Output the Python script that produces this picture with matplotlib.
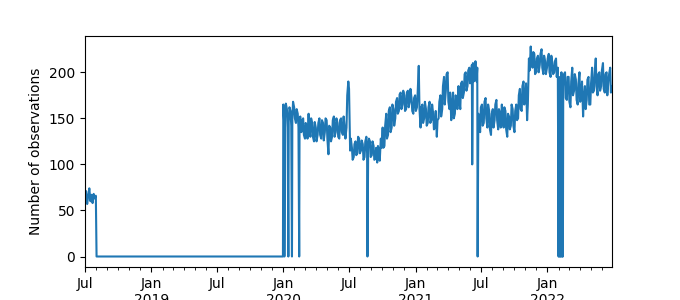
import pandas as pd
import matplotlib.pyplot as plt
import matplotlib.dates as mdates
import matplotlib.ticker as mticker

#early observations, every 3 days
early_start = "2018-07-01"
early_values = [62, 71, 57, 66, 74, 60, 67, 58, 68, 63, 66]

#no observations in between
gap_dates = ["2018-08-02", "2019-12-31"]
gap_values = [0, 0]

#main observations, every 5 days
main_start = "2020-01-01"
main_values = [
    165, 152, 160, 146, 158, 150, 162, 145, 155, 148,
    135, 150, 128, 142, 155, 130, 145, 125, 140, 132,
    150, 128, 145, 135, 148, 111, 140, 130, 152, 135,
    145, 128, 150, 132, 140, 140,
    190, 115,
    118, 108, 125, 112, 128, 115, 122, 108, 130, 118,
    125, 110, 120, 106, 102, 115, 128,
    140, 120, 155, 132, 162, 140, 160, 150,
    172, 158, 178, 165, 175, 160, 180, 168, 172, 155, 175, 162,
    207,
    140, 165, 150, 160, 145, 168, 148, 155, 140, 130,
    150, 175, 160, 195, 180, 200,
    160, 148, 178, 155, 172, 185, 160,
    190, 178, 200, 185, 205, 195, 210, 200, 190,
    155, 135, 165, 145, 172, 140, 158, 132, 160, 148,
    170, 138, 155, 165, 140, 158, 130, 152, 142, 160, 135,
    165, 150, 182, 158, 190, 170, 148,
    215, 228, 205, 220, 200, 218, 208, 225, 198, 212, 205, 220, 195, 210, 200, 215,
    205, 190, 200,
    185, 200, 170, 195, 162, 205, 180, 192, 165, 200,
    175, 152, 185, 170, 195, 165, 205, 180, 215, 175,
    200, 185, 210, 178, 200, 190, 205, 185,
]

#in-between readings, 2 days after each main one
mid_start = "2020-01-03"
mid_values = [
    148, 166, 140, 162, 142, 168, 150, 160, 140, 152,
    148, 132, 145, 128, 138, 150, 130, 146, 125, 145,
    132, 148, 126, 150, 128, 142, 125, 148, 130, 150,
    130, 148, 135, 152, 128, 175,
    182, 128,
    105, 122, 110, 130, 112, 126, 105, 125, 112, 128,
    108, 125, 105, 118, 120, 104, 118,
    118, 142, 128, 158, 135, 165, 142, 168,
    155, 176, 160, 180, 158, 178, 162, 182, 158, 172, 158, 178,
    160,
    162, 145, 168, 142, 162, 145, 165, 138, 158, 148,
    168, 152, 185, 165, 198, 168,
    178, 165, 150, 175, 160, 170, 188,
    172, 198, 180, 202, 188, 208, 190, 212, 205,
    140, 162, 142, 168, 150, 165, 138, 155, 140, 165,
    148, 160, 140, 150, 162, 138, 155, 138, 165, 142, 158,
    148, 175, 160, 185, 165, 188, 165,
    202, 212, 222, 198, 215, 200, 220, 205, 218, 198, 215, 200, 218, 198, 212, 195,
    188, 205, 182,
    198, 172, 195, 168, 190, 175, 198, 170, 188, 168,
    190, 172, 160, 192, 165, 188, 178, 198, 185, 198,
    180, 202, 182, 198, 175, 198, 178,
]

#single day outliers / outages
spike_dates = ["2020-01-04", "2020-01-15", "2020-01-25", "2020-02-14",
               "2020-08-21", "2021-06-07", "2021-06-22",
               "2022-02-01", "2022-02-02", "2022-02-03", "2022-02-06",
               "2022-02-07", "2022-02-08", "2022-02-11", "2022-02-12", "2022-02-13"]
spike_values = [0, 0, 0, 0,
                0, 100, 0,
                0, 195, 0, 0,
                188, 0, 0, 192, 0]


def build_series():
    early = pd.Series(early_values, index=pd.date_range(early_start, periods=len(early_values), freq="3D"))
    gap = pd.Series(gap_values, index=pd.to_datetime(gap_dates))
    main = pd.Series(main_values, index=pd.date_range(main_start, periods=len(main_values), freq="5D"))
    mid = pd.Series(mid_values, index=pd.date_range(mid_start, periods=len(mid_values), freq="5D"))
    spikes = pd.Series(spike_values, index=pd.to_datetime(spike_dates))
    s = pd.concat([early, gap, main, mid, spikes])
    #outages win over regular readings on the same day
    s = s[~s.index.duplicated(keep="last")]
    return s.sort_index()


def month_label(x, pos=None):
    d = mdates.num2date(x)
    if d.month == 1:
        return "Jan\n{}".format(d.year)
    return d.strftime("%b")


s = build_series()

fig, ax = plt.subplots(figsize=(6.8, 3), dpi=100)
ax.plot(s.index.to_numpy(), s.values, color="#1f77b4", lw=1.5)
ax.set_xlim(s.index.min(), s.index.max())
ax.set_ylabel("Number of observations")

#ticks: Jan/Jul labelled, monthly minors
ax.xaxis.set_major_locator(mdates.MonthLocator(bymonth=[1, 7]))
ax.xaxis.set_major_formatter(mticker.FuncFormatter(month_label))
ax.xaxis.set_minor_locator(mdates.MonthLocator())
ax.tick_params(axis="x", which="major", length=3.5)

plt.savefig("out.png", dpi=100)
